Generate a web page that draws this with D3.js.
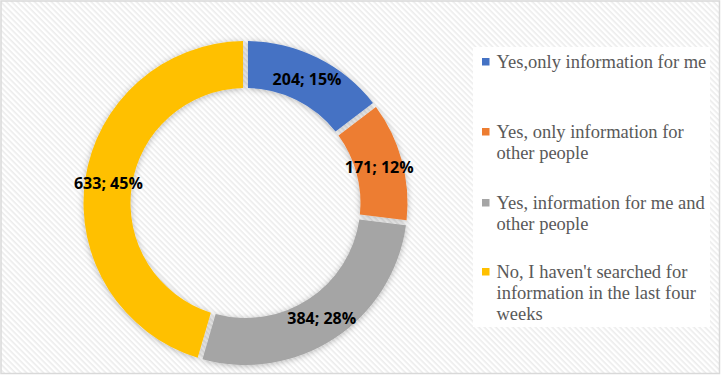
<!DOCTYPE html>
<html>
<head>
<meta charset="utf-8">
<script src="https://cdn.jsdelivr.net/npm/d3@7"></script>
<style>
  html, body { margin: 0; padding: 0; background: #fff; }
  svg { display: block; }
</style>
</head>
<body>
<div id="root"></div>
<script>
// chart data
var categories = [
  "Yes,only information for me",
  "Yes, only information for other people",
  "Yes, information for me and other people",
  "No, I haven't searched for information in the last four weeks"
]
var values = [204, 171, 384, 633]
var percents = ["15%", "12%", "28%", "45%"]
var colors = ["#4472C4", "#ED7D31", "#A5A5A5", "#FFC000"]
// legend lines as they wrap in the original
var legendLines = [
  ["Yes,only information for me"],
  ["Yes, only information for", "other people"],
  ["Yes, information for me and", "other people"],
  ["No, I haven't searched for", "information in the last four", "weeks"]
]

function donutChart(){
  var width = 721, height = 375
  var cx = 245.5, cy = 203
  var outerR = 162, innerR = 115

  var svg = d3.select("#root").append("svg")
    .attr("width", width)
    .attr("height", height)

  var defs = svg.append("defs")

  // diagonal hatch background
  var pat = defs.append("pattern")
    .attr("id", "hatch")
    .attr("patternUnits", "userSpaceOnUse")
    .attr("width", 4).attr("height", 4)
    .attr("patternTransform", "rotate(45)")
  pat.append("rect").attr("width", 4).attr("height", 4).attr("fill", "#ffffff")
  pat.append("rect").attr("width", 4).attr("height", 1.6).attr("fill", "#ececec")

  var shadow = defs.append("filter")
    .attr("id", "shadow")
    .attr("x", "-20%").attr("y", "-20%")
    .attr("width", "140%").attr("height", "140%")
  shadow.append("feDropShadow")
    .attr("dx", 0).attr("dy", 1)
    .attr("stdDeviation", 3)
    .attr("flood-color", "#000")
    .attr("flood-opacity", 0.28)

  svg.append("rect")
    .attr("x", 1).attr("y", 1)
    .attr("width", width - 2.5).attr("height", height - 2.5)
    .attr("fill", "url(#hatch)")
    .attr("stroke", "#d9d9d9")
    .attr("stroke-width", 1.5)

  var pie = d3.pie().sort(null).value(function(d){ return d })
  var arcs = pie(values)

  var arc = d3.arc()
    .innerRadius(innerR)
    .outerRadius(outerR)
    .padRadius(outerR)
    .padAngle(5 / outerR)

  var g = svg.append("g").attr("transform", "translate(" + cx + " " + cy + ")")

  g.append("g")
    .attr("filter", "url(#shadow)")
    .selectAll("path")
    .data(arcs)
    .enter().append("path")
    .attr("d", arc)
    .attr("fill", function(d, i){ return colors[i] })

  var labelArc = d3.arc().innerRadius(innerR).outerRadius(outerR)
  g.selectAll(".lbl")
    .data(arcs)
    .enter().append("text")
    .attr("class", "lbl")
    .attr("transform", function(d){ return "translate(" + labelArc.centroid(d) + ")" })
    .attr("text-anchor", "middle")
    .attr("dy", "0.36em")
    .style("font-family", "'Open Sans', sans-serif")
    .style("font-weight", "bold")
    .style("font-size", "16px")
    .attr("fill", "#000")
    .text(function(d, i){ return d.data + "; " + percents[i] })

  // legend
  var legend = svg.append("g")
  legend.append("rect")
    .attr("x", 473).attr("y", 47)
    .attr("width", 237).attr("height", 280)
    .attr("fill", "#ffffff")

  var entryY = [62, 132, 203, 272]
  var lineH = 21
  var item = legend.selectAll(".item")
    .data(categories)
    .enter().append("g")
    .attr("class", "item")
    .attr("transform", function(d, i){ return "translate(482 " + entryY[i] + ")" })

  item.append("rect")
    .attr("x", 0).attr("y", -4)
    .attr("width", 7.5).attr("height", 7.5)
    .attr("fill", function(d, i){ return colors[i] })

  item.append("text")
    .attr("x", 14.5)
    .attr("y", 0)
    .style("font-family", "'Liberation Serif', 'Times New Roman', serif")
    .style("font-size", "18.5px")
    .attr("fill", "#595959")
    .selectAll("tspan")
    .data(function(d, i){ return legendLines[i] })
    .enter().append("tspan")
    .attr("x", 14.5)
    .attr("y", function(d, j){ return j * lineH })
    .attr("dy", "0.33em")
    .text(function(d){ return d })
}
donutChart()
</script>
</body>
</html>
